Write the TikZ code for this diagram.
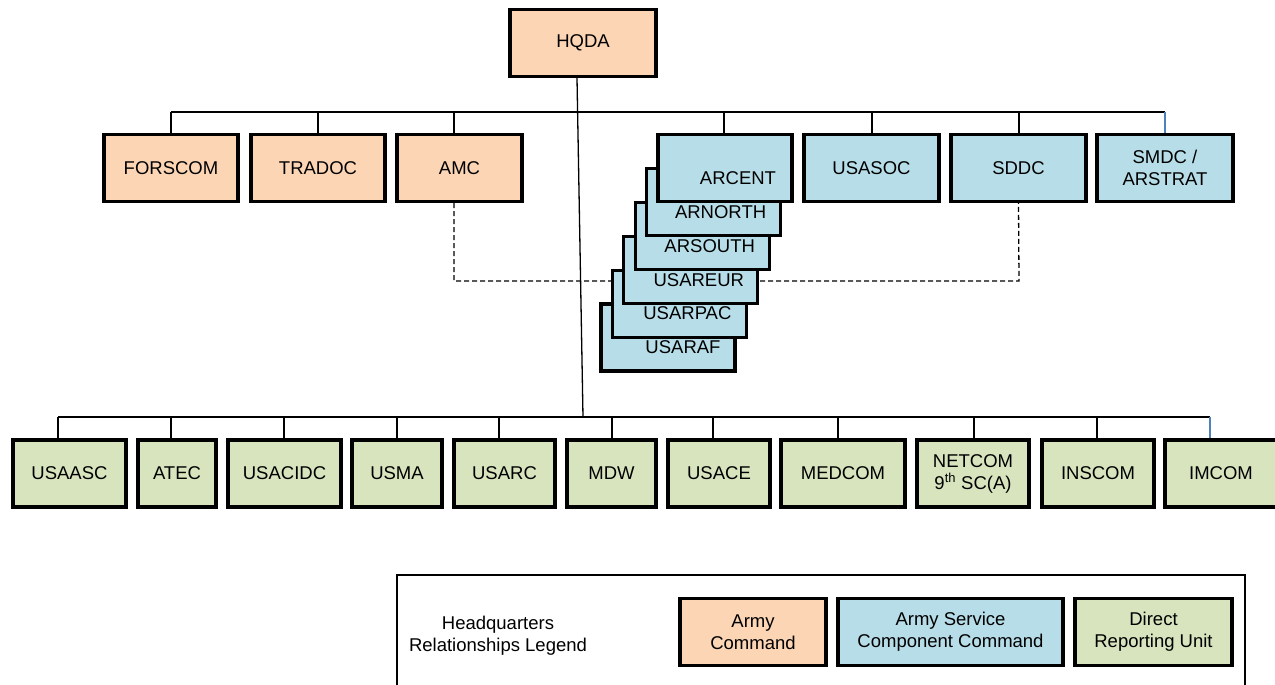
\documentclass[tikz,border=0pt]{standalone}
\usepackage{fontspec}
\setmainfont{Liberation Sans}
\usepackage{xcolor}
\definecolor{cmdpeach}{HTML}{FCD5B5}
\definecolor{asccblue}{HTML}{B7DEE8}
\definecolor{drugreen}{HTML}{D7E4BD}
\definecolor{tickblue}{HTML}{4F81BD}

\begin{document}
\begin{tikzpicture}[x=1pt, y=-1pt,
    unit/.style={draw, line width=3.2pt, minimum height=67pt, inner sep=2pt, align=center, font=\fontsize{18.5}{22}\selectfont},
    acom/.style={unit, fill=cmdpeach},
    ascc/.style={unit, fill=asccblue},
    dru/.style={unit, fill=drugreen},
    link/.style={line width=1.3pt}]
    \useasboundingbox (0,0) rectangle (1275,685);

    % Headquarters and the Army commands
    \node[acom, minimum width=146pt] (hqda) at (583,43) {HQDA};
    \node[acom, minimum width=134pt] (forscom) at (171,168) {FORSCOM};
    \node[acom, minimum width=134pt] (tradoc) at (318,168) {TRADOC};
    \node[acom, minimum width=125pt] (amc) at (459.5,168) {AMC};
    \node[ascc, minimum width=135pt] (usasoc) at (871.5,168) {USASOC};
    \node[ascc, minimum width=135pt] (sddc) at (1018.5,168) {SDDC};
    \node[ascc, minimum width=136pt] (smdc) at (1165,168) {SMDC /\\ARSTRAT};

    % Direct reporting units
    \foreach \n/\t/\x/\w in {usaasc/USAASC/69.5/113, atec/ATEC/177/78, usacidc/USACIDC/284.5/113,
        usma/USMA/397/90, usarc/USARC/504.5/101, mdw/MDW/611.5/89, usace/USACE/719/102,
        medcom/MEDCOM/843/124, netcom/{NETCOM\\9\textsuperscript{th} SC(A)}/973/112,
        inscom/INSCOM/1098/112, imcom/IMCOM/1221/112}
        \node[dru, minimum width=\w pt] (\n) at (\x,473.5) {\t};

    % Legend
    \draw[line width=2.8pt] (397,575) rectangle (1245,700);
    \node[align=center, font=\fontsize{18.5}{22}\selectfont] (legtitle) at (498,636) {Headquarters\\Relationships Legend};
    \node[acom, minimum width=146pt] (legacom) at (753,632) {Army\\Command};
    \node[ascc, minimum width=225pt] (legascc) at (950.5,632) {Army Service\\Component Command};
    \node[dru, minimum width=157pt] (legdru) at (1153.5,632) {Direct\\Reporting Unit};

    % Top bus and ticks
    \draw[link] (171,112) -- (1165,112);
    \foreach \n/\k in {forscom/171, tradoc/318, amc/454, usasoc/872, sddc/1019}
        \draw[link] (\k,112) -- (\n.north -| \k,0);
    \draw[link, tickblue] (1165,112) -- (smdc.north -| 1165,0);

    % Bottom bus and ticks
    \draw[link] ([xshift=-6pt]hqda.south) -- (583,417);
    \draw[link] (58,417) -- (1210,417);
    \foreach \n/\k in {usaasc/58, atec/171, usacidc/284, usma/397, usarc/499, mdw/612,
        usace/713, medcom/838, netcom/974, inscom/1097}
        \draw[link] (\k,417) -- (\n.north -| \k,0);
    \draw[link, tickblue] (1210,417) -- (imcom.north -| 1210,0);

    % Dashed link between AMC and SDDC
    \draw[link, dash pattern=on 5pt off 3pt] ([xshift=-5.5pt]amc.south) |- (1019,281) -- (sddc.south);

    % Stacked service component commands
    \foreach \n/\t/\d [count=\i from 0] in {usaraf/USARAF/15, usarpac/USARPAC/8, usareur/USAREUR/8,
        arsouth/ARSOUTH/7.5, arnorth/ARNORTH/7, arcent/ARCENT/13} {
        \node[ascc, minimum width=134pt] (\n) at (668+11.4*\i, 337.5-33.9*\i) {};
        \node[font=\fontsize{18.5}{22}\selectfont] at ([shift={(\d,10)}]\n.center) {\t};
    }
    \draw[link] (724,112) -- (arcent.north -| 724,0);
\end{tikzpicture}
\end{document}
